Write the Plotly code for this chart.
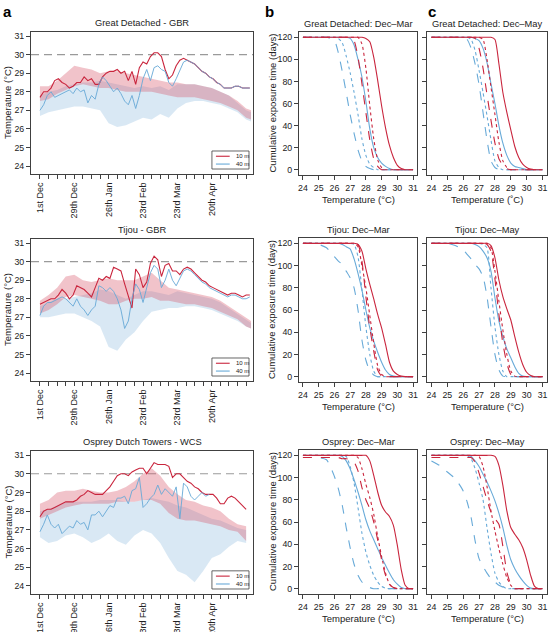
import pandas as pd
import plotly.graph_objects as go

# ---------------- data ----------------
START = pd.Timestamp("2016-12-01")
LINE_DAYS = list(range(0, 172, 3))
BAND_DAYS = list(range(0, 169, 7)) + [172]
TICK_DAYS = list(range(0, 169, 7))
TICK_LABELS = {0: "1st Dec", 28: "29th Dec", 56: "26th Jan", 84: "23rd Feb", 112: "23rd Mar", 140: "20th Apr"}

SITES = ["Great Detached - GBR", "Tijou - GBR", "Osprey Dutch Towers - WCS"]
CUM_TITLES_MAR = ["Great Detached: Dec\u2013Mar", "Tijou: Dec\u2013Mar", "Osprey: Dec\u2013Mar"]
CUM_TITLES_MAY = ["Great Detached: Dec\u2013May", "Tijou: Dec\u2013May", "Osprey: Dec\u2013May"]

GD_10 = [27.7, 28.0, 28.0, 28.2, 28.6, 28.7, 28.5, 28.4, 28.2, 28.3, 28.5, 28.5, 28.8, 28.6, 28.7, 28.4, 28.4, 28.8, 29.0, 29.1,
         29.1, 29.2, 29.0, 29.1, 28.6, 29.1, 28.4, 29.3, 29.6, 29.5, 29.9, 30.1, 30.1, 29.9, 29.2, 28.7, 28.9, 29.4, 29.7, 29.8,
         29.7, 29.6, 29.5, 29.3, 29.1, 29.0, 28.8, 28.7, 28.5, 28.4, 28.2, 28.2, 28.2, 28.3, 28.3, 28.2, 28.2, 28.2]
GD_40 = [27.0, 27.3, 27.8, 28.0, 27.7, 27.8, 27.9, 28.0, 28.1, 27.9, 28.2, 28.0, 28.1, 27.4, 27.8, 27.6, 28.4, 28.8, 28.6, 28.3,
         28.0, 28.2, 27.9, 27.5, 27.3, 27.8, 27.1, 27.8, 28.7, 29.2, 28.6, 29.3, 29.4, 29.2, 29.1, 28.5, 28.3, 28.7, 29.2, 29.6,
         29.7, 29.6, 29.5, 29.3, 29.1, 29.0, 28.8, 28.7, 28.5, 28.4, 28.2, 28.2, 28.2, 28.3, 28.3, 28.2, 28.2, 28.2]
TJ_10 = [27.7, 27.8, 27.9, 28.0, 28.0, 28.2, 28.5, 28.3, 28.0, 28.2, 28.7, 28.6, 28.5, 28.3, 28.1, 28.6, 29.1, 29.0, 29.2, 29.1,
         29.7, 29.6, 29.5, 28.8, 28.2, 27.5, 29.6, 29.3, 28.6, 28.9, 29.9, 30.3, 30.1, 29.2, 29.8, 29.9, 29.5, 29.5, 29.3, 29.6,
         29.7, 29.6, 29.4, 29.2, 29.0, 28.9, 28.7, 28.6, 28.5, 28.4, 28.3, 28.2, 28.3, 28.3, 28.2, 28.1, 28.2, 28.2]
TJ_40 = [27.1, 27.6, 27.8, 27.8, 27.9, 28.0, 28.1, 28.0, 27.8, 27.6, 28.0, 27.6, 27.4, 27.1, 27.4, 27.6, 28.7, 28.6, 28.4, 28.6,
         28.4, 28.0, 27.4, 26.4, 26.8, 28.0, 28.8, 28.5, 27.8, 28.6, 29.4, 29.8, 29.6, 28.6, 29.0, 29.6, 29.0, 28.7, 29.1, 29.5,
         29.6, 29.5, 29.3, 29.1, 28.9, 28.8, 28.6, 28.5, 28.4, 28.3, 28.2, 28.1, 28.2, 28.2, 28.1, 28.0, 28.0, 28.1]
OS_10 = [27.7, 28.0, 28.1, 28.1, 28.2, 28.3, 28.4, 28.5, 28.5, 28.5, 28.6, 28.8, 28.9, 29.1, 29.0, 28.9, 28.9, 28.9, 29.1, 29.3,
         29.6, 29.9, 30.0, 30.0, 29.9, 30.1, 30.2, 30.3, 30.3, 30.0, 30.3, 30.6, 30.5, 30.5, 30.5, 30.4, 29.8, 30.0, 30.0, 29.8,
         29.6, 29.5, 29.3, 29.2, 29.0, 28.9, 28.9, 28.9, 28.7, 28.4, 28.4, 28.7, 28.8, 28.7, 28.5, 28.3, 28.1, None]
OS_40 = [26.9, 27.3, 27.8, 27.3, 27.1, 27.3, 26.8, 27.0, 27.2, 27.1, 27.5, 27.3, 27.4, 27.0, 27.8, 27.8, 28.0, 27.7, 28.0, 28.3,
         28.2, 28.7, 28.7, 28.8, 28.4, 29.1, 29.2, 29.8, 28.2, 28.4, 28.7, 28.9, 29.4, 28.9, 29.2, 29.0, 28.8, 29.3, 27.6, 29.5,
         29.3, 28.8, 28.6, 28.8, 29.0, 28.8, 28.9] + [None] * 11

GD_P_LO = [27.5, 27.6, 27.9, 28.1, 28.3, 28.4, 28.3, 28.2, 28.2, 28.1, 28.0, 28.0, 28.0, 28.0, 27.9, 27.8, 27.7, 27.7, 27.7, 27.6, 27.5, 27.4, 27.2, 27.0, 26.6, 26.5]
GD_P_HI = [28.3, 28.3, 28.6, 29.0, 29.4, 29.3, 29.2, 29.0, 29.1, 29.1, 29.0, 28.9, 28.8, 28.7, 28.6, 28.5, 28.5, 28.4, 28.4, 28.3, 28.2, 28.0, 27.8, 27.5, 27.1, 27.0]
GD_B_LO = [26.7, 26.9, 27.0, 27.1, 27.2, 27.2, 27.1, 27.0, 26.3, 26.1, 26.2, 26.4, 26.6, 26.5, 26.8, 26.6, 27.1, 27.4, 27.5, 27.5, 27.4, 27.3, 27.1, 26.9, 26.5, 26.4]
GD_B_HI = [27.8, 28.0, 28.1, 28.3, 28.4, 28.5, 28.5, 28.6, 28.5, 28.4, 28.3, 28.2, 28.3, 28.2, 28.3, 28.1, 28.4, 28.4, 28.4, 28.3, 28.2, 28.0, 27.8, 27.4, 27.0, 26.9]
TJ_P_LO = [27.2, 27.4, 27.7, 28.1, 28.2, 28.1, 28.0, 27.9, 27.7, 27.7, 27.9, 28.0, 28.0, 28.1, 27.9, 27.9, 27.8, 27.7, 27.7, 27.6, 27.5, 27.3, 27.1, 26.9, 26.5, 26.4]
TJ_P_HI = [27.9, 28.2, 28.6, 29.2, 29.3, 29.0, 28.9, 29.0, 29.1, 29.0, 29.0, 29.0, 29.2, 29.4, 29.0, 28.6, 28.5, 28.4, 28.3, 28.2, 28.1, 27.9, 27.6, 27.3, 27.0, 26.8]
TJ_B_LO = [27.0, 27.0, 27.1, 27.2, 27.2, 27.0, 26.8, 26.5, 25.4, 25.2, 25.8, 26.2, 26.8, 27.3, 27.4, 27.5, 27.5, 27.6, 27.6, 27.5, 27.4, 27.2, 27.0, 26.8, 26.5, 26.4]
TJ_B_HI = [27.6, 27.8, 28.0, 28.0, 28.1, 28.2, 28.3, 28.5, 28.4, 28.2, 28.0, 28.2, 28.4, 28.4, 28.3, 28.2, 28.4, 28.3, 28.2, 28.1, 28.0, 27.8, 27.5, 27.2, 26.9, 26.7]
OS_P_LO = [27.6, 27.8, 28.0, 28.2, 28.3, 28.4, 28.4, 28.4, 28.4, 28.5, 28.5, 28.5, 28.6, 28.6, 28.4, 27.9, 27.6, 27.5, 27.5, 27.4, 27.3, 27.2, 27.0, 26.9, 26.4]
OS_P_HI = [28.4, 28.6, 29.0, 29.1, 29.1, 29.2, 29.1, 29.0, 29.0, 29.1, 29.3, 29.6, 30.0, 30.3, 29.9, 29.3, 28.9, 28.6, 28.5, 28.3, 28.2, 28.0, 27.6, 27.3, 27.2]
OS_B_LO = [26.6, 26.3, 26.4, 26.7, 26.8, 26.6, 26.3, 26.5, 26.8, 26.4, 26.2, 26.7, 27.0, 26.8, 26.3, 25.5, 24.8, 24.6, 24.2, 24.8, 25.5, 25.7, 26.1, 26.4, 26.3]
OS_B_HI = [28.0, 28.1, 28.3, 28.5, 28.5, 28.5, 28.5, 28.6, 28.6, 28.6, 28.5, 28.5, 28.6, 28.7, 28.6, 28.5, 28.3, 28.2, 28.0, 27.8, 27.6, 27.5, 27.3, 27.1, 27.0]

TEMP = [24, 24.5, 25, 25.5, 26, 26.25, 26.5, 26.75, 27, 27.25, 27.5, 27.75, 28, 28.25, 28.5, 28.75,
        29, 29.25, 29.5, 29.75, 30, 30.25, 30.5, 30.75, 31]

GD_MAR_R_SOLID = [120, 120, 120, 120, 120, 120, 120, 120, 120, 120, 120, 120, 119, 116, 102, 81, 58, 38, 22, 11, 4, 1, 0, 0, 0]
GD_MAR_R_DASH = [120, 120, 120, 120, 120, 120, 120, 120, 120, 117, 102, 78, 52, 27, 10, 3, 0, 0, 0, 0, 0, 0, 0, 0, 0]
GD_MAR_R_DOT = [120, 120, 120, 120, 120, 120, 120, 120, 120, 120, 120, 114, 92, 58, 28, 9, 2, 0, 0, 0, 0, 0, 0, 0, 0]
GD_MAR_B_SOLID = [120, 120, 120, 120, 120, 120, 120, 120, 119, 113, 100, 84, 62, 37, 20, 11, 6, 3, 1, 0, 0, 0, 0, 0, 0]
GD_MAR_B_DASH = [120, 120, 120, 120, 117, 106, 89, 70, 50, 33, 18, 8, 3, 1, 0, 0, 0, 0, 0, 0, 0, 0, 0, 0, 0]
GD_MAR_B_DOT = [120, 120, 120, 120, 120, 119, 115, 103, 88, 70, 50, 28, 13, 5, 2, 0, 0, 0, 0, 0, 0, 0, 0, 0, 0]

GD_MAY_R_SOLID = [120, 120, 120, 120, 120, 120, 120, 120, 120, 120, 120, 120, 118, 96, 70, 52, 36, 21, 11, 5, 2, 0.5, 0, 0, 0]
GD_MAY_R_DASH = [120, 120, 120, 120, 120, 120, 120, 119, 110, 92, 68, 45, 24, 10, 4, 1, 0, 0, 0, 0, 0, 0, 0, 0, 0]
GD_MAY_R_DOT = [120, 120, 120, 120, 120, 120, 120, 120, 120, 118, 100, 75, 50, 25, 8, 2, 0, 0, 0, 0, 0, 0, 0, 0, 0]
GD_MAY_B_SOLID = [120, 120, 120, 120, 120, 120, 120, 119, 117, 110, 97, 78, 60, 40, 24, 13, 6, 3, 2, 1, 0, 0, 0, 0, 0]
GD_MAY_B_DASH = [120, 120, 120, 120, 120, 118, 110, 96, 77, 52, 27, 8, 2, 0, 0, 0, 0, 0, 0, 0, 0, 0, 0, 0, 0]
GD_MAY_B_DOT = [120, 120, 120, 120, 120, 120, 118, 108, 90, 70, 49, 27, 8, 2, 0, 0, 0, 0, 0, 0, 0, 0, 0, 0, 0]

TJ_MAR_R_SOLID = [120, 120, 120, 120, 120, 120, 120, 120, 120, 120, 119, 113, 97, 83, 70, 56, 44, 29, 13, 5, 2, 0.5, 0, 0, 0]
TJ_MAR_R_DASH = [120, 120, 120, 120, 120, 120, 120, 120, 120, 120, 119, 104, 72, 44, 23, 6, 0.5, 0, 0, 0, 0, 0, 0, 0, 0]
TJ_MAR_R_DOT = [120, 120, 120, 120, 120, 120, 120, 120, 120, 120, 117, 100, 80, 55, 30, 10, 2, 0, 0, 0, 0, 0, 0, 0, 0]
TJ_MAR_B_SOLID = [120, 120, 120, 120, 120, 120, 119, 117, 115, 106, 93, 78, 60, 44, 32, 22, 13, 6, 2, 0.5, 0, 0, 0, 0, 0]
TJ_MAR_B_DASH = [120, 120, 119, 116, 108, 104, 101, 95, 89, 80, 60, 33, 15, 5, 1.5, 0, 0, 0, 0, 0, 0, 0, 0, 0, 0]
TJ_MAR_B_DOT = [120, 120, 120, 120, 120, 120, 120, 120, 120, 119, 108, 78, 45, 20, 5, 0, 0, 0, 0, 0, 0, 0, 0, 0, 0]

TJ_MAY_R_SOLID = [120, 120, 120, 120, 120, 120, 120, 120, 120, 120, 120, 118, 107, 87, 72, 61, 51, 36, 22, 11, 4, 1, 0, 0, 0]
TJ_MAY_R_DASH = [120, 120, 120, 120, 120, 120, 120, 120, 120, 120, 119, 113, 88, 56, 30, 12, 2, 0, 0, 0, 0, 0, 0, 0, 0]
TJ_MAY_R_DOT = [120, 120, 120, 120, 120, 120, 120, 120, 120, 120, 120, 116, 95, 68, 42, 20, 5, 0.5, 0, 0, 0, 0, 0, 0, 0]
TJ_MAY_B_SOLID = [120, 120, 120, 120, 120, 120, 120, 119, 117, 113, 107, 95, 71, 50, 36, 25, 17, 9, 3, 0.5, 0, 0, 0, 0, 0]
TJ_MAY_B_DASH = [120, 120, 120, 118, 114, 110, 106, 101, 97, 90, 72, 45, 20, 6, 0.5, 0, 0, 0, 0, 0, 0, 0, 0, 0, 0]
TJ_MAY_B_DOT = [120, 120, 120, 120, 120, 120, 120, 120, 120, 119, 116, 80, 45, 20, 5, 0, 0, 0, 0, 0, 0, 0, 0, 0, 0]

OS_MAR_R_SOLID = [120, 120, 120, 120, 120, 120, 120, 120, 120, 120, 120, 120, 120, 115, 102, 87, 75, 69, 65, 57, 39, 17, 3, 0, 0]
OS_MAR_R_DASH = [118, 118, 118, 118, 118, 118, 117, 117, 116, 114, 106, 91, 80, 72, 60, 44, 26, 12, 4, 1, 0, 0, 0, 0, 0]
OS_MAR_R_DOT = [120, 120, 120, 120, 120, 120, 120, 120, 120, 120, 118, 108, 94, 82, 67, 47, 29, 14, 4, 1, 0, 0, 0, 0, 0]
OS_MAR_B_SOLID = [120, 120, 120, 120, 120, 120, 119, 115, 108, 98, 87, 75, 62, 52, 44, 36, 28, 21, 14, 8, 4, 1, 0, 0, 0]
OS_MAR_B_DASH = [118, 118, 118, 116, 101, 90, 75, 55, 37, 22, 12, 6, 3, 1, 0, 0, 0, 0, 0, 0, 0, 0, 0, 0, 0]
OS_MAR_B_DOT = [120, 120, 120, 120, 120, 120, 120, 119, 110, 95, 73, 50, 33, 21, 12, 6, 2, 0.5, 0, 0, 0, 0, 0, 0, 0]

OS_MAY_R_SOLID = [120, 120, 120, 120, 120, 120, 120, 120, 120, 120, 120, 120, 119, 111, 93, 70, 55, 49, 44, 37, 26, 12, 2, 0, 0]
OS_MAY_R_DASH = [118, 118, 118, 118, 118, 118, 118, 114, 104, 92, 80, 69, 63, 58, 38, 15, 4, 0, 0, 0, 0, 0, 0, 0, 0]
OS_MAY_R_DOT = [120, 120, 120, 120, 120, 120, 120, 120, 119, 110, 92, 70, 52, 36, 22, 10, 3, 0, 0, 0, 0, 0, 0, 0, 0]
OS_MAY_B_SOLID = [120, 120, 120, 120, 120, 120, 119, 115, 110, 103, 96, 88, 79, 68, 55, 39, 26, 18, 12, 7, 3, 0.5, 0, 0, 0]
OS_MAY_B_DASH = [115, 111, 105, 99, 88, 78, 64, 43, 27, 20, 14, 9, 6, 3, 1.5, 0, 0, 0, 0, 0, 0, 0, 0, 0, 0]
OS_MAY_B_DOT = [120, 120, 120, 120, 120, 120, 117, 108, 95, 80, 55, 32, 14, 6, 2, 0, 0, 0, 0, 0, 0, 0, 0, 0, 0]

SERIES = [
    (GD_10, GD_40, GD_P_LO, GD_P_HI, GD_B_LO, GD_B_HI),
    (TJ_10, TJ_40, TJ_P_LO, TJ_P_HI, TJ_B_LO, TJ_B_HI),
    (OS_10, OS_40, OS_P_LO, OS_P_HI, OS_B_LO, OS_B_HI),
]
CUM_MAR = [
    (GD_MAR_R_SOLID, GD_MAR_R_DASH, GD_MAR_R_DOT, GD_MAR_B_SOLID, GD_MAR_B_DASH, GD_MAR_B_DOT),
    (TJ_MAR_R_SOLID, TJ_MAR_R_DASH, TJ_MAR_R_DOT, TJ_MAR_B_SOLID, TJ_MAR_B_DASH, TJ_MAR_B_DOT),
    (OS_MAR_R_SOLID, OS_MAR_R_DASH, OS_MAR_R_DOT, OS_MAR_B_SOLID, OS_MAR_B_DASH, OS_MAR_B_DOT),
]
CUM_MAY = [
    (GD_MAY_R_SOLID, GD_MAY_R_DASH, GD_MAY_R_DOT, GD_MAY_B_SOLID, GD_MAY_B_DASH, GD_MAY_B_DOT),
    (TJ_MAY_R_SOLID, TJ_MAY_R_DASH, TJ_MAY_R_DOT, TJ_MAY_B_SOLID, TJ_MAY_B_DASH, TJ_MAY_B_DOT),
    (OS_MAY_R_SOLID, OS_MAY_R_DASH, OS_MAY_R_DOT, OS_MAY_B_SOLID, OS_MAY_B_DASH, OS_MAY_B_DOT),
]

# ---------------- style ----------------
W, H = 551, 632
FONT = "Liberation Sans, Arial, Helvetica, sans-serif"
TXT = "#222222"
AXC = "#404040"
RED = "#C9253D"
BLUE = "#68AAD8"
PINK_FILL = "rgba(215,80,100,0.34)"
BLUE_FILL = "rgba(110,168,214,0.26)"
TICK_SIZE = 8.8
TITLE_SIZE = 9.3
AXTITLE_SIZE = 9.5


def px_x(a, b):
    return [a / W, b / W]


def px_y(top, bot):
    return [1 - bot / H, 1 - top / H]


A_X = px_x(31, 253)
B_X = px_x(299, 417)
C_X = px_x(427, 547)
A_ROWS = [(32, 174), (239, 381), (451, 594)]
BC_ROWS = [(32, 175), (238, 382), (450, 594)]


def suffix(i):
    return "" if i == 1 else str(i)


fig = go.Figure()
layout = dict(
    width=W, height=H, margin=dict(l=0, r=0, t=0, b=0, autoexpand=False),
    paper_bgcolor="white", plot_bgcolor="white", showlegend=False,
    font=dict(family=FONT, size=10, color=TXT), hovermode=False,
)
shapes, annotations = [], []

base_axis = dict(showline=True, mirror=True, linecolor=AXC, linewidth=1, ticks="outside",
                 ticklen=4, tickwidth=1, tickcolor=AXC, showgrid=False, zeroline=False,
                 automargin=False, tickfont=dict(family=FONT, size=TICK_SIZE, color=TXT))

dates = lambda days: [START + pd.Timedelta(days=d) for d in days]
x_lo = START - pd.Timedelta(days=7.3)
x_hi = START + pd.Timedelta(days=173.6)

for r in range(3):
    ia, ib, ic = 3 * r + 1, 3 * r + 2, 3 * r + 3
    s10, s40, plo, phi, blo, bhi = SERIES[r]
    xa, ya = "x" + suffix(ia), "y" + suffix(ia)

    # bands
    for lo, hi, col in [(blo, bhi, BLUE_FILL), (plo, phi, PINK_FILL)]:
        n = min(len(lo), len(BAND_DAYS))
        bd = dates(BAND_DAYS[:n])
        fig.add_trace(go.Scatter(x=bd + bd[::-1], y=list(hi[:n]) + list(lo[:n])[::-1], fill="toself",
                                 fillcolor=col, line=dict(width=0), mode="lines", xaxis=xa, yaxis=ya))
    ld = dates(LINE_DAYS)
    fig.add_trace(go.Scatter(x=ld, y=s10, mode="lines", line=dict(color=RED, width=1.1), xaxis=xa, yaxis=ya))
    fig.add_trace(go.Scatter(x=ld, y=s40, mode="lines", line=dict(color=BLUE, width=1.0), opacity=0.9,
                             xaxis=xa, yaxis=ya))

    ticktext = [TICK_LABELS.get(d, "") for d in TICK_DAYS]
    layout["xaxis" + suffix(ia)] = dict(base_axis, domain=A_X, anchor=ya, type="date",
                                        range=[x_lo, x_hi], tickmode="array",
                                        tickvals=dates(TICK_DAYS), ticktext=ticktext, tickangle=-90,
                                        tickfont=dict(family=FONT, size=9, color=TXT))
    top, bot = A_ROWS[r]
    layout["yaxis" + suffix(ia)] = dict(base_axis, domain=px_y(top, bot), anchor=xa,
                                        range=[23.57, 31.22], tickmode="array",
                                        tickvals=[24, 25, 26, 27, 28, 29, 30, 31])
    # threshold line
    shapes.append(dict(type="line", xref=xa + " domain", yref=ya, x0=0, x1=1, y0=30, y1=30,
                       line=dict(color="#9a9a9a", width=1.1, dash="8px,5px"), layer="below"))
    # legend box
    shapes.append(dict(type="rect", xref=xa + " domain", yref=ya + " domain", x0=0.815, x1=0.982,
                       y0=0.035, y1=0.162, line=dict(color=AXC, width=0.8), fillcolor="white"))
    for yy, col, lab in [(0.125, RED, "10 m"), (0.07, BLUE, "40 m")]:
        shapes.append(dict(type="line", xref=xa + " domain", yref=ya + " domain", x0=0.833, x1=0.895,
                           y0=yy, y1=yy, line=dict(color=col, width=1.1)))
        annotations.append(dict(xref=xa + " domain", yref=ya + " domain", x=0.913, y=yy, text=lab,
                                showarrow=False, xanchor="left", yanchor="middle",
                                font=dict(size=6, color=TXT, family=FONT)))
    # titles
    annotations.append(dict(xref="paper", yref="paper", x=142 / W, y=1 - (top - 9) / H, text=SITES[r],
                            showarrow=False, xanchor="center", yanchor="middle", font=dict(size=TITLE_SIZE)))
    annotations.append(dict(xref="paper", yref="paper", x=8 / W, y=1 - (top + bot) / 2 / H,
                            text="Temperature (\u00b0C)", textangle=-90, showarrow=False,
                            xanchor="center", yanchor="middle", font=dict(size=AXTITLE_SIZE)))

    # cumulative panels
    btop, bbot = BC_ROWS[r]
    for idx, (cums, xdom, titles) in enumerate([(CUM_MAR, B_X, CUM_TITLES_MAR), (CUM_MAY, C_X, CUM_TITLES_MAY)]):
        ii = ib if idx == 0 else ic
        xc, yc = "x" + suffix(ii), "y" + suffix(ii)
        rs, rd, rdt, bs, bdh, bdt = cums[r]
        for vals, col, dash in [(bdh, BLUE, "dash"), (bdt, BLUE, "dot"), (bs, BLUE, "solid"),
                                (rd, RED, "dash"), (rdt, RED, "dot"), (rs, RED, "solid")]:
            fig.add_trace(go.Scatter(x=TEMP, y=vals, mode="lines",
                                     line=dict(color=col, width=1.1, dash=dash, shape="spline", smoothing=0.6),
                                     xaxis=xc, yaxis=yc))
        xr = [23.75, 31.25] if idx == 0 else [23.72, 31.28]
        layout["xaxis" + suffix(ii)] = dict(base_axis, domain=xdom, anchor=yc, range=xr,
                                            tickmode="array", tickvals=[24, 25, 26, 27, 28, 29, 30, 31])
        layout["yaxis" + suffix(ii)] = dict(base_axis, domain=px_y(btop, bbot), anchor=xc,
                                            range=[-4.8, 124.8], tickmode="array",
                                            tickvals=[0, 20, 40, 60, 80, 100, 120],
                                            showticklabels=(idx == 0))
        cx = (xdom[0] + xdom[1]) / 2
        annotations.append(dict(xref="paper", yref="paper", x=cx, y=1 - (btop - 8) / H, text=titles[r],
                                showarrow=False, xanchor="center", yanchor="middle", font=dict(size=TITLE_SIZE)))
        deg = "\u02daC" if (idx == 1 and r == 0) else "\u00b0C"
        annotations.append(dict(xref="paper", yref="paper", x=cx, y=1 - (bbot + 24) / H,
                                text="Temperature (" + deg + ")", showarrow=False,
                                xanchor="center", yanchor="middle", font=dict(size=AXTITLE_SIZE)))
    annotations.append(dict(xref="paper", yref="paper", x=272 / W, y=1 - (btop + bbot) / 2 / H,
                            text="Cumulative exposure time (days)", textangle=-90, showarrow=False,
                            xanchor="center", yanchor="middle", font=dict(size=AXTITLE_SIZE)))

for lab, xp in [("a", 1), ("b", 263), ("c", 426)]:
    annotations.append(dict(xref="paper", yref="paper", x=xp / W, y=1 - 12 / H, text="<b>" + lab + "</b>",
                            showarrow=False, xanchor="left", yanchor="middle",
                            font=dict(size=15, color="#000000", family=FONT)))

layout["shapes"] = shapes
layout["annotations"] = annotations
fig.update_layout(**layout)
fig.write_html("out.html")
